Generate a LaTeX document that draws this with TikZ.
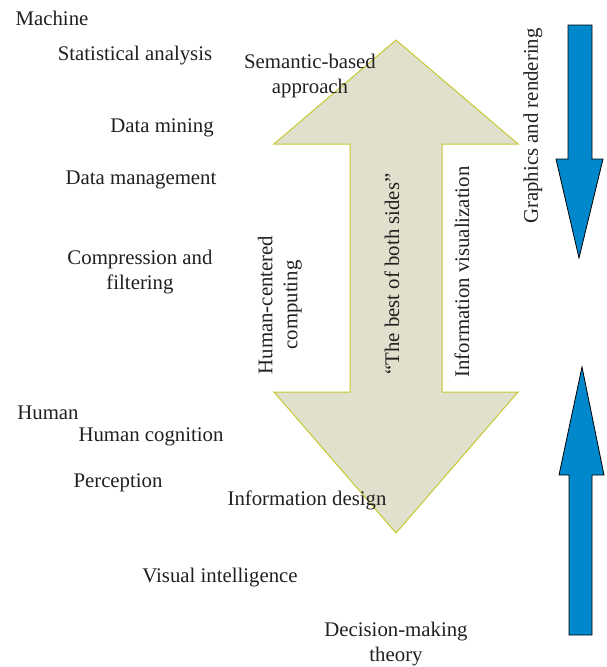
\documentclass[tikz,border=0pt]{standalone}
\usepackage{fontspec}
\setmainfont{Liberation Serif}
\usepackage{tikz}
\definecolor{beige}{RGB}{224,224,204}
\definecolor{olive}{RGB}{200,200,50}
\definecolor{arrowblue}{RGB}{0,136,204}
\definecolor{textgray}{RGB}{35,31,32}
\usetikzlibrary{arrows.meta}

\begin{document}
\begin{tikzpicture}[x=1pt,y=-1pt,
    lbl/.style={text=textgray,font=\fontsize{20.8}{25}\selectfont,align=center,inner sep=0pt}]
    \useasboundingbox (0,0) rectangle (606,667);

    % double arrow in the middle
    \draw[fill=beige,draw=olive,line width=1pt] (396,40) -- (518,144) -- (442,144) -- (442,392)
        -- (518,392) -- (396,533) -- (274,392) -- (350,392) -- (350,144) -- (274,144) -- cycle;

    % blue arrows on the right
    \draw[fill=arrowblue,line width=0.8pt] (568,25) -- (592,25) -- (592,159) -- (603,159)
        -- (579,258) -- (556,159) -- (568,159) -- cycle;
    \draw[fill=arrowblue,line width=0.8pt] (582,367) -- (604,475) -- (592,475) -- (592,635)
        -- (569,635) -- (569,475) -- (559,475) -- cycle;

    \node[lbl] (machine) at (52,18) {Machine};
    \node[lbl] (stat) at (135,56) {Statistical analysis};
    \node[lbl] (semantic) at (310,76) {Semantic-based\\approach};
    \node[lbl] (mining) at (162,128) {Data mining};
    \node[lbl] (manage) at (141,180) {Data management};
    \node[lbl] (compress) at (140,272) {Compression and\\filtering};

    \node[lbl] (human) at (48,413) {Human};
    \node[lbl] (cognition) at (151,437) {Human cognition};
    \node[lbl] (percept) at (118,483) {Perception};
    \node[lbl] (design) at (307,500) {Information design};
    \node[lbl] (visual) at (220,578) {Visual intelligence};
    \node[lbl] (decision) at (396,644) {Decision-making\\theory};

    \node[lbl,rotate=90] (hcc) at (280,305) {Human-centered\\computing};
    \node[lbl,rotate=90] (best) at (392,274) {``The best of both sides''};
    \node[lbl,rotate=90] (infovis) at (462,272) {Information visualization};
    \node[lbl,rotate=90] (graphics) at (533,126) {Graphics and rendering};
\end{tikzpicture}
\end{document}
